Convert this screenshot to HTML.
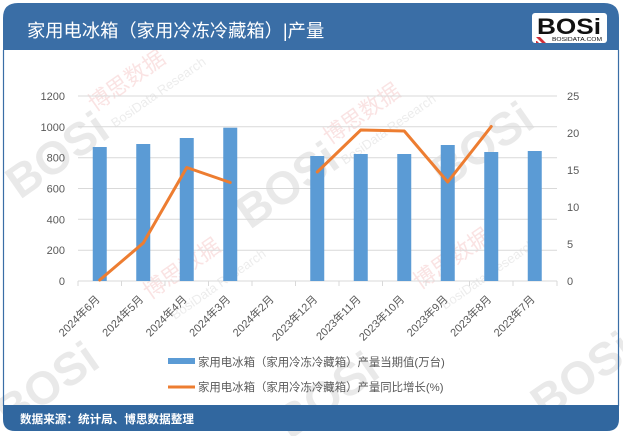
<!DOCTYPE html>
<html><head><meta charset="utf-8">
<style>
html,body{margin:0;padding:0;background:#fff;}
svg{display:block;}
text{font-family:"Liberation Sans","Noto Sans CJK SC",sans-serif;}
</style></head>
<body>
<svg width="623" height="436" viewBox="0 0 623 436" xmlns="http://www.w3.org/2000/svg">
<rect x="0" y="0" width="623" height="436" fill="#fff"/>

<!-- watermarks -->
<g opacity="0.13" font-weight="bold" fill="#555">
  <text x="0" y="0" font-size="46" transform="translate(20,200) rotate(-35)">BOSi</text>
  <text x="0" y="0" font-size="46" transform="translate(250,230) rotate(-35)">BOSi</text>
  <text x="0" y="0" font-size="46" transform="translate(445,190) rotate(-35)">BOSi</text>
  <text x="0" y="0" font-size="46" transform="translate(10,430) rotate(-35)">BOSi</text>
  <text x="0" y="0" font-size="46" transform="translate(290,440) rotate(-35)">BOSi</text>
  <text x="0" y="0" font-size="46" transform="translate(545,420) rotate(-35)">BOSi</text>
</g>
<g opacity="0.16" fill="#e05050">
  <text x="0" y="0" font-size="22" transform="translate(95,112) rotate(-35)">博思数据</text>
  <text x="0" y="0" font-size="22" transform="translate(330,145) rotate(-35)">博思数据</text>
  <text x="0" y="0" font-size="22" transform="translate(150,300) rotate(-35)">博思数据</text>
  <text x="0" y="0" font-size="22" transform="translate(420,290) rotate(-35)">博思数据</text>
</g>
<g opacity="0.14" fill="#777">
  <text x="0" y="0" font-size="13" transform="translate(115,128) rotate(-35)">BosiData Research</text>
  <text x="0" y="0" font-size="13" transform="translate(345,165) rotate(-35)">BosiData Research</text>
  <text x="0" y="0" font-size="13" transform="translate(175,320) rotate(-35)">BosiData Research</text>
  <text x="0" y="0" font-size="13" transform="translate(445,310) rotate(-35)">BosiData Research</text>
</g>

<!-- header -->
<path d="M3,50 V18 Q3,3 18,3 H604 Q619,3 619,18 V50 Z" fill="#3a6ea6"/>
<text x="27" y="37" font-size="18.3" fill="#fff">家用电冰箱（家用冷冻冷藏箱）|产量</text>

<!-- logo -->
<rect x="532" y="13" width="75" height="30" rx="3" fill="#fff"/>
<text x="537" y="34" font-size="22" font-weight="bold" fill="#111" textLength="64" lengthAdjust="spacingAndGlyphs">BOSi</text>
<text x="552" y="41" font-size="5" fill="#111" textLength="50" lengthAdjust="spacingAndGlyphs">BOSIDATA.COM</text>
<path d="M536,37 L540,37 L546,43 L542,43 Z M536,41 L537,41 L539,43 L536,43 Z" fill="#d0303a"/>

<!-- body borders -->
<line x1="3.5" y1="50" x2="3.5" y2="406" stroke="#3a6ea6" stroke-width="1.2"/>
<line x1="618.5" y1="50" x2="618.5" y2="406" stroke="#3a6ea6" stroke-width="1.2"/>

<!-- gridlines -->
<g stroke="#d9d9d9" stroke-width="1">
  <line x1="78" y1="96" x2="557" y2="96"/>
  <line x1="78" y1="126.8" x2="557" y2="126.8"/>
  <line x1="78" y1="157.7" x2="557" y2="157.7"/>
  <line x1="78" y1="188.5" x2="557" y2="188.5"/>
  <line x1="78" y1="219.3" x2="557" y2="219.3"/>
  <line x1="78" y1="250.2" x2="557" y2="250.2"/>
  <line x1="78" y1="281" x2="557" y2="281"/>
</g>
<!-- x ticks -->
<g stroke="#d9d9d9" stroke-width="1">
  <line x1="78" y1="281" x2="78" y2="286"/>
  <line x1="121.5" y1="281" x2="121.5" y2="286"/>
  <line x1="165" y1="281" x2="165" y2="286"/>
  <line x1="208.5" y1="281" x2="208.5" y2="286"/>
  <line x1="252" y1="281" x2="252" y2="286"/>
  <line x1="295.5" y1="281" x2="295.5" y2="286"/>
  <line x1="339" y1="281" x2="339" y2="286"/>
  <line x1="382.5" y1="281" x2="382.5" y2="286"/>
  <line x1="426" y1="281" x2="426" y2="286"/>
  <line x1="469.5" y1="281" x2="469.5" y2="286"/>
  <line x1="513" y1="281" x2="513" y2="286"/>
  <line x1="557" y1="281" x2="557" y2="286"/>
</g>

<!-- left axis labels -->
<g font-size="11" fill="#595959" text-anchor="end">
  <text x="65" y="100">1200</text>
  <text x="65" y="130.8">1000</text>
  <text x="65" y="161.7">800</text>
  <text x="65" y="192.5">600</text>
  <text x="65" y="223.3">400</text>
  <text x="65" y="254.2">200</text>
  <text x="65" y="285">0</text>
</g>
<!-- right axis labels -->
<g font-size="11" fill="#595959">
  <text x="567" y="100">25</text>
  <text x="567" y="137">20</text>
  <text x="567" y="174">15</text>
  <text x="567" y="211">10</text>
  <text x="567" y="248">5</text>
  <text x="567" y="285">0</text>
</g>

<!-- bars -->
<g fill="#5b9bd5">
  <rect x="92.75" y="147" width="14" height="134"/>
  <rect x="136.25" y="144" width="14" height="137"/>
  <rect x="179.75" y="138" width="14" height="143"/>
  <rect x="223.25" y="127.7" width="14" height="153.3"/>
  <rect x="310.25" y="156" width="14" height="125"/>
  <rect x="353.75" y="154" width="14" height="127"/>
  <rect x="397.25" y="154" width="14" height="127"/>
  <rect x="440.75" y="145" width="14" height="136"/>
  <rect x="484.25" y="152" width="14" height="129"/>
  <rect x="527.75" y="151" width="14" height="130"/>
</g>

<!-- line -->
<g fill="none" stroke="#ed7d31" stroke-width="3" stroke-linejoin="round" stroke-linecap="round">
  <polyline points="99.75,280 143.25,243 186.75,167.5 230.25,182.5"/>
  <polyline points="317.25,172 360.75,130 404.25,131 447.75,182 491.25,126.5"/>
</g>

<!-- x labels -->
<g font-size="11" fill="#595959" text-anchor="end">
  <text transform="translate(100.5,300) rotate(-45)">2024年6月</text>
  <text transform="translate(144,300) rotate(-45)">2024年5月</text>
  <text transform="translate(187.5,300) rotate(-45)">2024年4月</text>
  <text transform="translate(231,300) rotate(-45)">2024年3月</text>
  <text transform="translate(274.5,300) rotate(-45)">2024年2月</text>
  <text transform="translate(318,300) rotate(-45)">2023年12月</text>
  <text transform="translate(361.5,300) rotate(-45)">2023年11月</text>
  <text transform="translate(405,300) rotate(-45)">2023年10月</text>
  <text transform="translate(448.5,300) rotate(-45)">2023年9月</text>
  <text transform="translate(492,300) rotate(-45)">2023年8月</text>
  <text transform="translate(535.5,300) rotate(-45)">2023年7月</text>
</g>

<!-- legend -->
<rect x="168" y="358" width="27" height="6" fill="#5b9bd5"/>
<text x="198" y="366" font-size="11.4" fill="#595959">家用电冰箱（家用冷冻冷藏箱）产量当期值(万台)</text>
<line x1="168" y1="387" x2="195" y2="387" stroke="#ed7d31" stroke-width="3"/>
<text x="198" y="391" font-size="11.4" fill="#595959">家用电冰箱（家用冷冻冷藏箱）产量同比增长(%)</text>

<!-- footer -->
<path d="M3,405 H619 V419 Q619,431 607,431 H15 Q3,431 3,419 Z" fill="#31679f"/>
<text x="20" y="423" font-size="11.6" font-weight="bold" fill="#fff">数据来源：统计局、博思数据整理</text>
</svg>
</body></html>
